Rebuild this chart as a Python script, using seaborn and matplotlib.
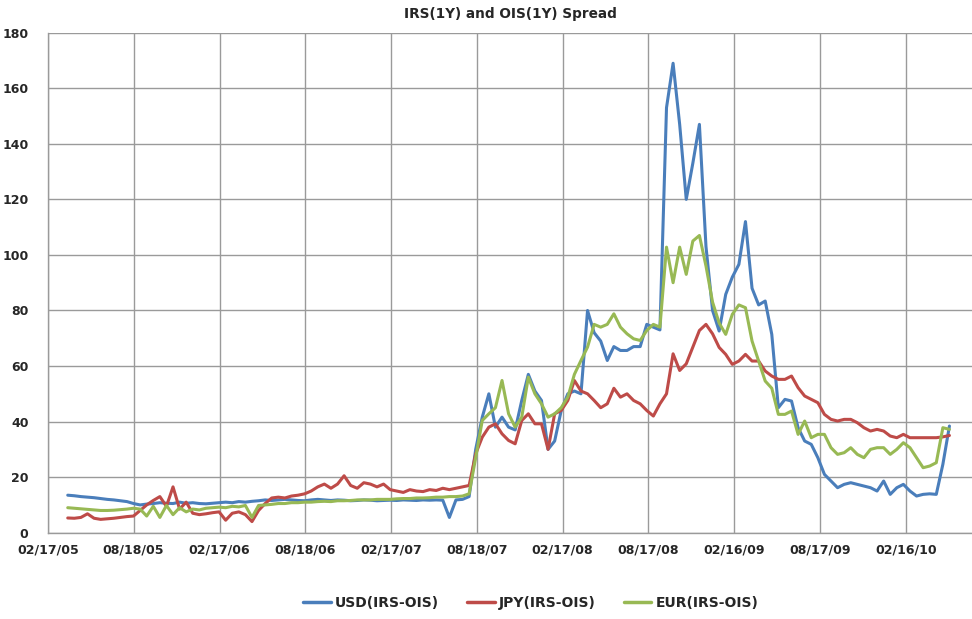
import numpy as np
import pandas as pd
import seaborn as sns
from matplotlib import pyplot as plt

# biweekly readings, first one on 2005-03-31
start_date = "2005-03-31"
step = "14D"

usd = [13.5, 13.3, 13.0, 12.8, 12.6, 12.3, 12.0, 11.8, 11.5, 11.2, 10.5,
       10.0, 10.3, 10.5, 10.8, 10.6, 10.5, 11.0, 10.6, 10.8, 10.5, 10.4, 10.6,
       10.8, 11.0, 10.8, 11.2, 11.0, 11.3, 11.5, 11.8, 11.6, 11.8, 12.0, 11.8, 11.6,
       11.5, 11.8, 12.0, 11.8, 11.6, 11.8, 11.7, 11.5, 11.6, 11.8, 11.7, 11.5, 11.6,
       11.7, 11.6, 11.8, 11.7, 11.6, 11.8, 11.7, 11.8, 11.7, 5.5, 11.8, 12.0, 13.0,
       30, 41.6, 50, 38, 41.6, 38, 37, 47.6, 57, 51, 47.6, 30, 33,
       44, 50, 51, 50, 80, 72, 69, 62, 67, 65.6, 65.6, 67, 67,
       75, 74, 73, 153, 169, 147, 120, 133, 147, 103, 80, 72.6, 85.8,
       92, 96.6, 112, 88, 82, 83.4, 71.4, 45, 48, 47.4, 37.8, 33, 31.8,
       27, 21, 18.6, 16.2, 17.4, 18, 17.4, 16.8, 16.2, 15, 18.6, 13.8, 16.2,
       17.4, 15, 13.2, 13.8, 14, 13.8, 24.6, 38.4]

jpy = [5.3, 5.2, 5.5, 6.8, 5.2, 4.8, 5.0, 5.2, 5.5, 5.8, 6.0,
       8.0, 10.0, 11.6, 13.0, 9.5, 16.5, 8.5, 11.0, 7.0, 6.5, 6.8, 7.2,
       7.5, 4.5, 7.0, 7.5, 6.5, 4.0, 8.0, 10.5, 12.5, 12.8, 12.5, 13.2, 13.5,
       14.0, 15.0, 16.5, 17.5, 16.0, 17.5, 20.5, 17.0, 16.0, 18.0, 17.5, 16.5, 17.5,
       15.5, 15.0, 14.5, 15.5, 15.0, 14.8, 15.5, 15.2, 16.0, 15.5, 16.0, 16.5, 17.0,
       28.4, 34.4, 38, 39.2, 35.6, 33.2, 32, 40.4, 42.8, 39.2, 39.2, 30, 42.8,
       44, 47.6, 54.8, 51, 50, 47.6, 45, 46.4, 52, 48.8, 50, 47.6, 46.4,
       44, 42, 46.4, 50, 64.4, 58.4, 60.8, 66.8, 72.8, 75, 71.6, 66.7, 64.2,
       60.6, 61.8, 64.2, 61.8, 61.8, 58.2, 56.4, 55.2, 55.2, 56.4, 52.2, 49.2, 48,
       46.8, 42.6, 40.8, 40.2, 40.8, 40.8, 39.6, 37.8, 36.6, 37.2, 36.6, 34.8, 34.2,
       35.4, 34.2, 34.2, 34.2, 34.2, 34.2, 34.5, 35.0]

eur = [9.0, 8.8, 8.6, 8.4, 8.2, 8.0, 8.0, 8.1, 8.3, 8.5, 8.8,
       8.5, 6.0, 9.5, 5.5, 9.8, 6.5, 9.0, 7.5, 8.5, 8.2, 8.8, 9.0,
       9.2, 9.0, 9.5, 9.3, 9.8, 5.5, 9.8, 10.0, 10.2, 10.5, 10.5, 10.8, 10.8,
       11.0, 11.0, 11.2, 11.3, 11.2, 11.5, 11.5, 11.6, 11.8, 11.8, 11.8, 12.0, 12.0,
       12.0, 12.2, 12.3, 12.3, 12.5, 12.5, 12.6, 12.8, 12.8, 13.0, 13.0, 13.2, 14.0,
       27, 40.4, 42.8, 45, 54.8, 42.8, 38, 41.6, 56, 50, 46.4, 41.6, 42.8,
       45, 48.8, 57, 62, 66.8, 75, 74, 75, 78.8, 74, 71.6, 69.8, 69.2,
       72.8, 75, 74, 102.8, 90, 102.8, 93, 105, 107, 96, 83, 75.5, 71.4,
       78.6, 82, 81, 69, 61.8, 54.6, 52, 42.6, 42.6, 43.8, 35.4, 40.2, 34.2,
       35.4, 35.4, 30.6, 28.2, 28.8, 30.6, 28.2, 27, 30, 30.6, 30.6, 28.2, 30,
       32.4, 30.6, 27, 23.4, 24, 25.2, 37.8, 37.2]

tick_dates = ["02/17/05", "08/18/05", "02/17/06", "08/18/06", "02/17/07", "08/18/07",
              "02/17/08", "08/17/08", "02/16/09", "08/17/09", "02/16/10"]

series = {"USD(IRS-OIS)": usd, "JPY(IRS-OIS)": jpy, "EUR(IRS-OIS)": eur}
colors = {"USD(IRS-OIS)": "#4a7ebb", "JPY(IRS-OIS)": "#be4b48", "EUR(IRS-OIS)": "#98b954"}

dates = pd.date_range(start_date, periods=len(usd), freq=step)
frames = []
for name, vals in series.items():
    frames.append(pd.DataFrame({"date": dates, "spread": vals, "series": name}))
df = pd.concat(frames, ignore_index=True)

sns.set_style("white")
plt.rcParams['font.family'] = ['DejaVu Sans']

fig = plt.figure(figsize=(9.72, 6.19), dpi=100)
ax = fig.add_axes([48 / 972, 1 - 532.7 / 619, 1 - 48 / 972, 500 / 619])

sns.lineplot(data=df, x="date", y="spread", hue="series", palette=colors,
             linewidth=2.2, ax=ax, legend=False)

ticks = pd.to_datetime(tick_dates, format="%m/%d/%y")
ax.set_xlim(ticks[0], pd.Timestamp("2010-07-07"))
ax.set_ylim(0, 180)
ax.set_xticks(ticks)
ax.set_xticklabels(tick_dates)
ax.set_yticks(np.arange(0, 181, 20))
ax.grid(True, color="#9a9a9a", linewidth=1.0)
ax.set_axisbelow(True)
for side in ["top", "right"]:
    ax.spines[side].set_visible(False)
for side in ["left", "bottom"]:
    ax.spines[side].set_color("#9a9a9a")
    ax.spines[side].set_linewidth(1.0)
ax.tick_params(length=0, labelsize=9)
ax.tick_params(axis="y", pad=14)
ax.tick_params(axis="x", pad=8)
for lab in ax.get_xticklabels() + ax.get_yticklabels():
    lab.set_fontweight("bold")
ax.set_xlabel("")
ax.set_ylabel("")

fig.text(0.525, 0.978, "IRS(1Y) and OIS(1Y) Spread", ha="center", va="center",
         fontsize=9.8, fontweight="bold")

handles = [plt.Line2D([], [], color=colors[n], linewidth=2.5) for n in series]
fig.legend(handles, list(series.keys()), loc="center", bbox_to_anchor=(0.546, 0.026),
           ncol=3, frameon=False, handlelength=2.0, handletextpad=0.3,
           columnspacing=2.0, prop={"size": 10, "weight": "bold"})

fig.savefig("out.png", dpi=100)
